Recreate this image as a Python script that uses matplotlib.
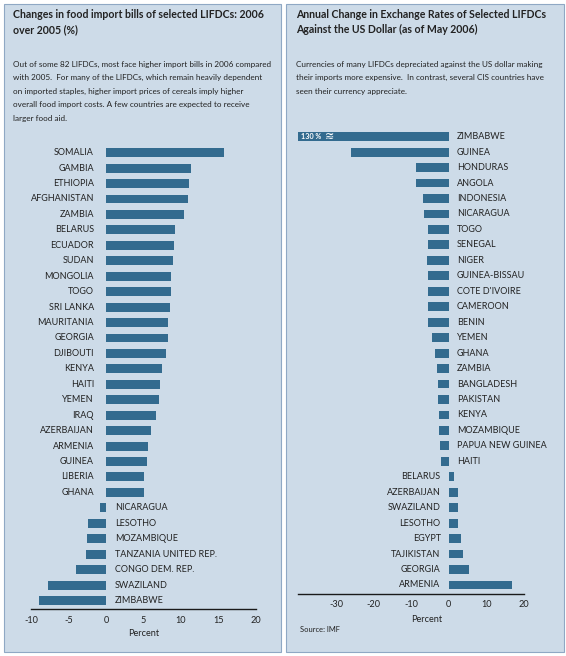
import matplotlib
matplotlib.use("Agg")
import matplotlib.pyplot as plt
from matplotlib.patches import Rectangle

plt.rcParams['font.family'] = ['Lato', 'DejaVu Sans']

W, H = 566, 656
BG = '#cddbe8'
EDGE = '#8fa8c4'
BAR = '#336b8f'
TXT = '#222222'

# left chart: change in food import bills 2006 over 2005 (%)
food_countries = ['SOMALIA', 'GAMBIA', 'ETHIOPIA', 'AFGHANISTAN', 'ZAMBIA', 'BELARUS',
                  'ECUADOR', 'SUDAN', 'MONGOLIA', 'TOGO', 'SRI LANKA', 'MAURITANIA',
                  'GEORGIA', 'DJIBOUTI', 'KENYA', 'HAITI', 'YEMEN', 'IRAQ', 'AZERBAIJAN',
                  'ARMENIA', 'GUINEA', 'LIBERIA', 'GHANA', 'NICARAGUA', 'LESOTHO',
                  'MOZAMBIQUE', 'TANZANIA UNITED REP.', 'CONGO DEM. REP.', 'SWAZILAND',
                  'ZIMBABWE']
food_values = [15.7, 11.3, 11.1, 10.9, 10.4, 9.2, 9.0, 8.9, 8.7, 8.6, 8.5, 8.3, 8.2, 8.0,
               7.4, 7.2, 7.0, 6.6, 6.0, 5.6, 5.5, 5.0, 5.0, -0.8, -2.4, -2.6, -2.7, -4.0,
               -7.7, -9.0]
food_ticks = [-10, -5, 0, 5, 10, 15, 20]

# right chart: annual change in exchange rates vs US dollar (%)
fx_countries = ['ZIMBABWE', 'GUINEA', 'HONDURAS', 'ANGOLA', 'INDONESIA', 'NICARAGUA', 'TOGO',
                'SENEGAL', 'NIGER', 'GUINEA-BISSAU', "COTE D'IVOIRE", 'CAMEROON', 'BENIN',
                'YEMEN', 'GHANA', 'ZAMBIA', 'BANGLADESH', 'PAKISTAN', 'KENYA', 'MOZAMBIQUE',
                'PAPUA NEW GUINEA', 'HAITI', 'BELARUS', 'AZERBAIJAN', 'SWAZILAND', 'LESOTHO',
                'EGYPT', 'TAJIKISTAN', 'GEORGIA', 'ARMENIA']
fx_values = [-130, -26, -8.8, -8.7, -6.9, -6.7, -5.6, -5.6, -5.7, -5.6, -5.6, -5.6, -5.6,
             -4.4, -3.7, -3.2, -2.9, -2.8, -2.6, -2.5, -2.3, -2.0, 1.4, 2.4, 2.5, 2.5, 3.3,
             3.8, 5.5, 17.0]
fx_ticks = [-30, -20, -10, 0, 10, 20]

left_title = ['Changes in food import bills of selected LIFDCs: 2006', 'over 2005 (%)']
left_note = ['Out of some 82 LIFDCs, most face higher import bills in 2006 compared',
             'with 2005.  For many of the LIFDCs, which remain heavily dependent',
             'on imported staples, higher import prices of cereals imply higher',
             'overall food import costs. A few countries are expected to receive',
             'larger food aid.']
right_title = ['Annual Change in Exchange Rates of Selected LIFDCs',
               'Against the US Dollar (as of May 2006)']
right_note = ['Currencies of many LIFDCs depreciated against the US dollar making',
              'their imports more expensive.  In contrast, several CIS countries have',
              'seen their currency appreciate.']


def box(x0, y0, x1, y1):
    return [x0 / W, 1 - y1 / H, (x1 - x0) / W, (y1 - y0) / H]


def lines(x, y, step, txt, **kw):
    for k, t in enumerate(txt):
        fig.text(x / W, 1 - (y + k * step) / H, t, va='center', color=TXT, **kw)


fig = plt.figure(figsize=(W / 100, H / 100), dpi=100)
fig.patch.set_facecolor('white')

# panel backgrounds
for x0, x1 in [(4, 281), (286, 564)]:
    fig.patches.append(Rectangle((x0 / W, 1 - 652 / H), (x1 - x0) / W, 648 / H,
                                 transform=fig.transFigure, facecolor=BG,
                                 edgecolor=EDGE, linewidth=0.8, zorder=-5))

lines(13, 15, 14.3, left_title, fontsize=7.6, fontweight='bold')
lines(13, 64.5, 13.4, left_note, fontsize=5.85)
lines(296, 15, 14.3, right_title, fontsize=7.6, fontweight='bold')
lines(296, 64.5, 13.4, right_note, fontsize=5.85)


def draw(ax, names, vals, ticks, xlim, h, lpad, rpad):
    n = len(vals)
    ax.barh(range(n), vals, height=h, color=BAR, zorder=2)
    ax.set_xlim(*xlim)
    ax.set_ylim(n - 1 + 0.55, -0.6)
    ax.set_facecolor('none')
    for s in ['top', 'left', 'right']:
        ax.spines[s].set_visible(False)
    ax.spines['bottom'].set_color('#1a1a1a')
    ax.spines['bottom'].set_linewidth(1.0)
    ax.set_yticks([])
    ax.set_xticks(ticks)
    ax.set_xticklabels([str(t) for t in ticks])
    ax.tick_params(axis='x', length=0, pad=5, labelsize=6.6, labelcolor=TXT)
    for i, (nm, v) in enumerate(zip(names, vals)):
        if v >= 0:
            ax.annotate(nm, (0, i), xytext=(-lpad, 0), textcoords='offset pixels',
                        ha='right', va='center', fontsize=6.5, color=TXT)
        else:
            ax.annotate(nm, (0, i), xytext=(rpad, 0), textcoords='offset pixels',
                        ha='left', va='center', fontsize=6.5, color=TXT)


ax1 = fig.add_axes(box(31, 143.4, 256, 609))
draw(ax1, food_countries, food_values, food_ticks, (-10, 20), 0.58, 12, 9)
ax1.set_xlabel('Percent', fontsize=6.6, color=TXT, labelpad=3)

ax2 = fig.add_axes(box(298, 127.4, 523.7, 593.5))
draw(ax2, fx_countries, fx_values, fx_ticks, (-40.2, 20), 0.57, 8, 8)
ax2.text(0.012, 0, '130 %', transform=ax2.get_yaxis_transform(), ha='left', va='center',
         fontsize=5.2, color='white', fontweight='bold', zorder=3)
ax2.text(0.14, 0, '\u224b', transform=ax2.get_yaxis_transform(), ha='center', va='center',
         fontsize=8, color='white', family='DejaVu Sans', zorder=3)

fig.text(427 / W, 1 - 619 / H, 'Percent', fontsize=6.6, color=TXT, ha='center', va='center')
fig.text(300 / W, 1 - 630 / H, 'Source: IMF', fontsize=5.4, color=TXT, va='center')

fig.savefig('out.png', dpi=100, facecolor='white')
